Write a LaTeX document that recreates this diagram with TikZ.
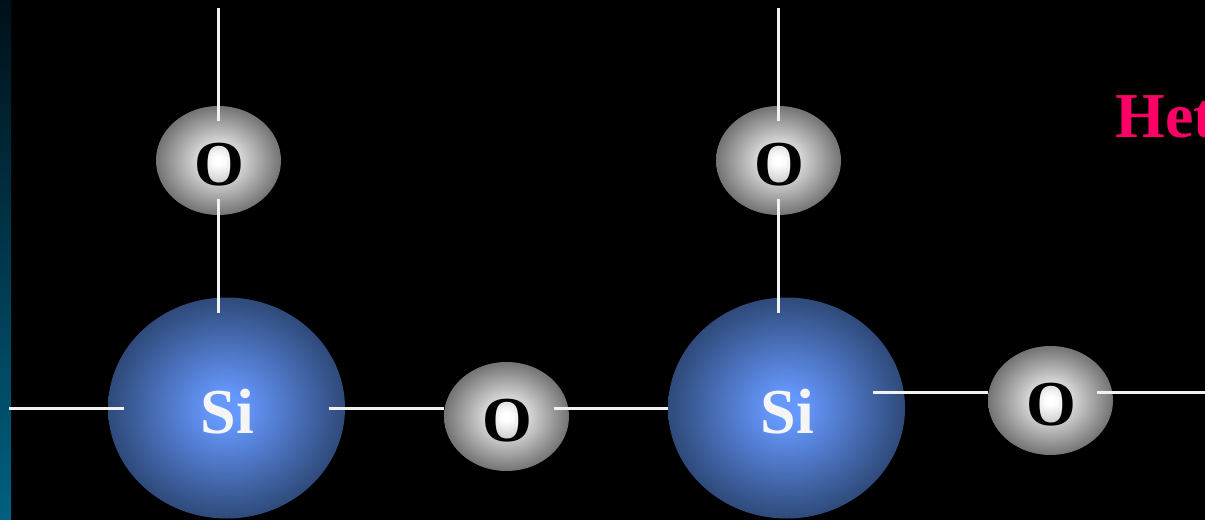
\documentclass[tikz,border=0pt]{standalone}
\usepackage{fontspec}
\setmainfont{Liberation Serif}
\usetikzlibrary{shapes.geometric}
\definecolor{heat}{HTML}{FF0066}
\definecolor{barbot}{HTML}{006080}
\definecolor{bartop}{HTML}{001018}
\definecolor{sicore}{HTML}{6699FF}
\definecolor{siedge}{HTML}{2F4A7A}
\definecolor{ocore}{HTML}{FFFFFF}
\definecolor{oedge}{HTML}{737373}
\pgfdeclareradialshading{sishade}{\pgfpoint{0bp}{0bp}}{color(0bp)=(sicore); color(3bp)=(sicore); color(25bp)=(siedge); color(100bp)=(siedge)}
\pgfdeclareradialshading{oshade}{\pgfpoint{0bp}{0bp}}{color(0bp)=(ocore); color(2bp)=(ocore); color(25bp)=(oedge); color(100bp)=(oedge)}
\tikzset{
  x=0.75pt,y=-0.75pt,
  siball/.style={ellipse,draw=none,inner sep=0pt,minimum width=177.75pt,minimum height=165.75pt,shading=sishade},
  oball/.style={ellipse,draw=none,inner sep=0pt,minimum width=93.75pt,minimum height=81.75pt,shading=oshade},
  bond/.style={draw=white!95!black,line width=2.25pt},
  atomtext/.style={font=\fontsize{48pt}{48pt}\selectfont\bfseries,anchor=base,inner sep=0pt},
}
\begin{document}
\begin{tikzpicture}
\useasboundingbox (0,0) rectangle (1205,520);
\clip (0,0) rectangle (1205,520);
\fill[black] (0,0) rectangle (1205,520);
\shade[bottom color=barbot,top color=bartop] (0,0) rectangle (11,520);
% atoms
\node[oball] (o1) at (218.5,160.5) {};
\node[oball] (o2) at (778.5,160.5) {};
\node[siball] (si1) at (226.5,408) {};
\node[siball] (si2) at (786.5,408) {};
\node[oball] (o3) at (506.5,416.5) {};
\node[oball] (o4) at (1050.5,400.5) {};
% free ends
\coordinate (t1a) at (218.8,8);   \coordinate (t1b) at (218.8,121);
\coordinate (t2a) at (218.8,199); \coordinate (t2b) at (218.8,313);
\coordinate (t3a) at (778.8,8);   \coordinate (t3b) at (778.8,121);
\coordinate (t4a) at (778.8,199); \coordinate (t4b) at (778.8,313);
\coordinate (h1a) at (9,408.3);     \coordinate (h1b) at (124,408.3);
\coordinate (h2a) at (329,408.3);   \coordinate (h2b) at (444,408.3);
\coordinate (h3a) at (554,408.3);   \coordinate (h3b) at (668,408.3);
\coordinate (h4a) at (873,392.3);   \coordinate (h4b) at (988,392.3);
\coordinate (h5a) at (1097,392.3);  \coordinate (h5b) at (1205,392.3);
\foreach \p/\q in {t1a/t1b,t2a/t2b,t3a/t3b,t4a/t4b,h1a/h1b,h2a/h2b,h3a/h3b,h4a/h4b,h5a/h5b}
  \draw[bond] (\p) -- (\q);
% labels
\node[atomtext,text=black] (lo1) at (219.5,185.5) {O};
\node[atomtext,text=black] (lo2) at (779.5,185.5) {O};
\node[atomtext,text=black] (lo3) at (507.5,441.5) {O};
\node[atomtext,text=black] (lo4) at (1051.5,425.5) {O};
\node[atomtext,text=white!96!black] (lsi1) at (227.5,433) {Si};
\node[atomtext,text=white!96!black] (lsi2) at (787.5,433) {Si};
\node[font=\fontsize{48pt}{48pt}\selectfont\bfseries,anchor=base west,inner sep=0pt,text=heat] (het) at (1115,137.5) {Het};
\end{tikzpicture}
\end{document}
